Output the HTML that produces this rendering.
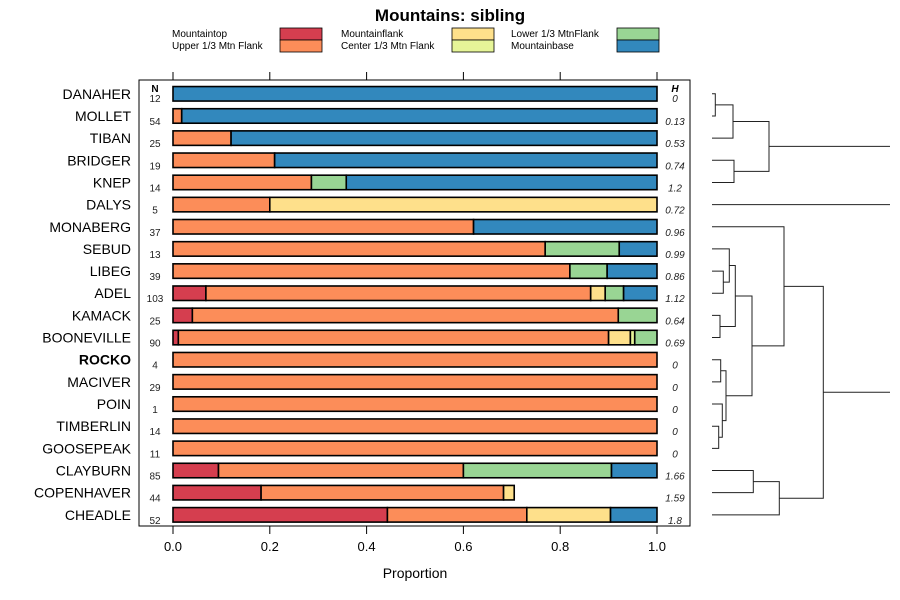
<!DOCTYPE html>
<html><head><meta charset="utf-8"><style>
body{margin:0;background:#fff}
svg{display:block;font-family:"Liberation Sans",sans-serif}
</style></head><body>
<svg id="chart" width="900" height="600" viewBox="0 0 900 600">
<text x="450" y="21" text-anchor="middle" font-size="17" font-weight="bold">Mountains: sibling</text>
<g id="legend"></g>
<rect x="139" y="80" width="551" height="446" fill="none" stroke="#000" stroke-width="1"/>
<g id="axes"></g>
<g id="bars"></g>
<g id="labels"></g>
<g id="dendro" stroke="#222" stroke-width="1" fill="none"></g>
<text x="415" y="578" text-anchor="middle" font-size="14">Proportion</text>
</svg>
<script>
const categories=["DANAHER","MOLLET","TIBAN","BRIDGER","KNEP","DALYS","MONABERG","SEBUD","LIBEG","ADEL","KAMACK","BOONEVILLE","ROCKO","MACIVER","POIN","TIMBERLIN","GOOSEPEAK","CLAYBURN","COPENHAVER","CHEADLE"];
const seriesNames=["Mountaintop","Upper 1/3 Mtn Flank","Mountainflank","Center 1/3 Mtn Flank","Lower 1/3 MtnFlank","Mountainbase"];
const colors=["#d53e4f","#fc8d59","#fee08b","#e6f598","#99d594","#3288bd"];
const mountaintop=[0,0,0,0,0,0,0,0,0,0.068,0.04,0.011,0,0,0,0,0,0.094,0.182,0.443];
const upperFlank=[0,0.018,0.12,0.21,0.286,0.2,0.621,0.769,0.82,0.795,0.88,0.889,1,1,1,1,1,0.506,0.501,0.288];
const mountainflank=[0,0,0,0,0,0.8,0,0,0,0.03,0,0.045,0,0,0,0,0,0,0.022,0.173];
const centerFlank=[0,0,0,0,0,0,0,0,0,0,0,0.009,0,0,0,0,0,0,0,0];
const lowerFlank=[0,0,0,0,0.072,0,0,0.153,0.077,0.038,0.08,0.046,0,0,0,0,0,0.306,0,0];
const mountainbase=[1,0.982,0.88,0.79,0.642,0,0.379,0.078,0.103,0.069,0,0,0,0,0,0,0,0.094,0,0.096];
const nValues=[12,54,25,19,14,5,37,13,39,103,25,90,4,29,1,14,11,85,44,52];
const hValues=["0","0.13","0.53","0.74","1.2","0.72","0.96","0.99","0.86","1.12","0.64","0.69","0","0","0","0","0","1.66","1.59","1.8"];
const xTicks=[0,0.2,0.4,0.6,0.8,1.0];
const xTickLabels=["0.0","0.2","0.4","0.6","0.8","1.0"];
const boldRows=["ROCKO"];
const series=[mountaintop,upperFlank,mountainflank,centerFlank,lowerFlank,mountainbase];
// dendrogram merges: [leafOrNodeA, leafOrNodeB, height-x]; nodes referenced as "n#"
const dendroMerges=[[0,1,715.3],[ "n0",2,733],[3,4,734],["n1","n2",769],[8,9,723.3],[7,"n4",729.3],[10,11,720],["n5","n6",735.3],[15,16,718.7],[14,"n8",722.3],[12,13,720.7],["n10","n9",726],["n7","n11",752],[6,"n12",784],[17,18,753.3],["n14",19,779.3],["n13","n15",823.3]];
const dendroRootEdges=[["n3",890],[5,890],["n16",890]];

const NS="http://www.w3.org/2000/svg";
const X0=173,X1=657;
const xs=v=>X0+v*(X1-X0);
const yc=i=>93.8+i*22.16;
const BH=14.5;
function mk(tag,attrs,parent){const e=document.createElementNS(NS,tag);for(const k in attrs)e.setAttribute(k,attrs[k]);parent.appendChild(e);return e;}
const axes=document.getElementById('axes'),bars=document.getElementById('bars'),labels=document.getElementById('labels'),dendro=document.getElementById('dendro'),legend=document.getElementById('legend');

// legend
const legPos=[[172,280],[341,452],[511,617]];
seriesNames.forEach((nm,k)=>{
  const col=Math.floor(k/2),row=k%2;
  const t=mk('text',{x:legPos[col][0],y:37+row*12,'font-size':10},legend);t.textContent=nm;
  
  
  const r=mk('rect',{x:legPos[col][1],y:28+row*12,width:42,height:12,fill:colors[k],stroke:'#000','stroke-width':0.8},legend);
  
  
});

// ticks
xTicks.forEach((v,k)=>{
  const x=xs(v);
  const t1=mk('line',{x1:x,x2:x,y1:72,y2:80,stroke:'#000'},axes);
  
  
  const t2=mk('line',{x1:x,x2:x,y1:526,y2:534,stroke:'#000'},axes);
  
  
  const tl=mk('text',{x:x,y:551,'text-anchor':'middle','font-size':13},axes);tl.textContent=xTickLabels[k];
  
  
});

// headers
let h=mk('text',{x:155,y:92,'text-anchor':'middle','font-size':10,'font-weight':'bold'},labels);h.textContent='N';


h=mk('text',{x:675,y:92,'text-anchor':'middle','font-size':10,'font-weight':'bold','font-style':'italic'},labels);h.textContent='H';



categories.forEach((c,i)=>{
  const y=yc(i);
  const lab=mk('text',{x:131,y:y+5,'text-anchor':'end','font-size':14,'font-weight':boldRows.includes(c)?'bold':'normal'},labels);lab.textContent=c;
  
  
  const n=mk('text',{x:155,y:y+(i===0?8:9),'text-anchor':'middle','font-size':10,fill:'#222'},labels);n.textContent=nValues[i];
  
  
  const hv=mk('text',{x:675,y:y+(i===0?8:9),'text-anchor':'middle','font-size':10,'font-style':'italic',fill:'#222'},labels);hv.textContent=hValues[i];
  
  
  let acc=0;
  series.forEach((s,k)=>{
    const v=s[i];if(v<=0)return;
    const r=mk('rect',{x:xs(acc),y:y-BH/2,width:xs(acc+v)-xs(acc),height:BH,fill:colors[k],stroke:'#000','stroke-width':1.6},bars);
    
    
    acc+=v;
  });
});

// dendrogram
const LEAFX=712;
const nodes=[];
function pos(ref){if(typeof ref==='number')return {x:LEAFX,y:yc(ref)};return nodes[+ref.slice(1)];}
dendroMerges.forEach(m=>{
  const a=pos(m[0]),b=pos(m[1]),hx=m[2];
  const p=mk('path',{d:`M${a.x},${a.y}H${hx}V${b.y}H${b.x}`},dendro);
  
  
  nodes.push({x:hx,y:(a.y+b.y)/2});
});
dendroRootEdges.forEach(e=>{
  const a=pos(e[0]);
  const p=mk('path',{d:`M${a.x},${a.y}H${e[1]}`},dendro);
  
  
});
</script>
</body></html>
